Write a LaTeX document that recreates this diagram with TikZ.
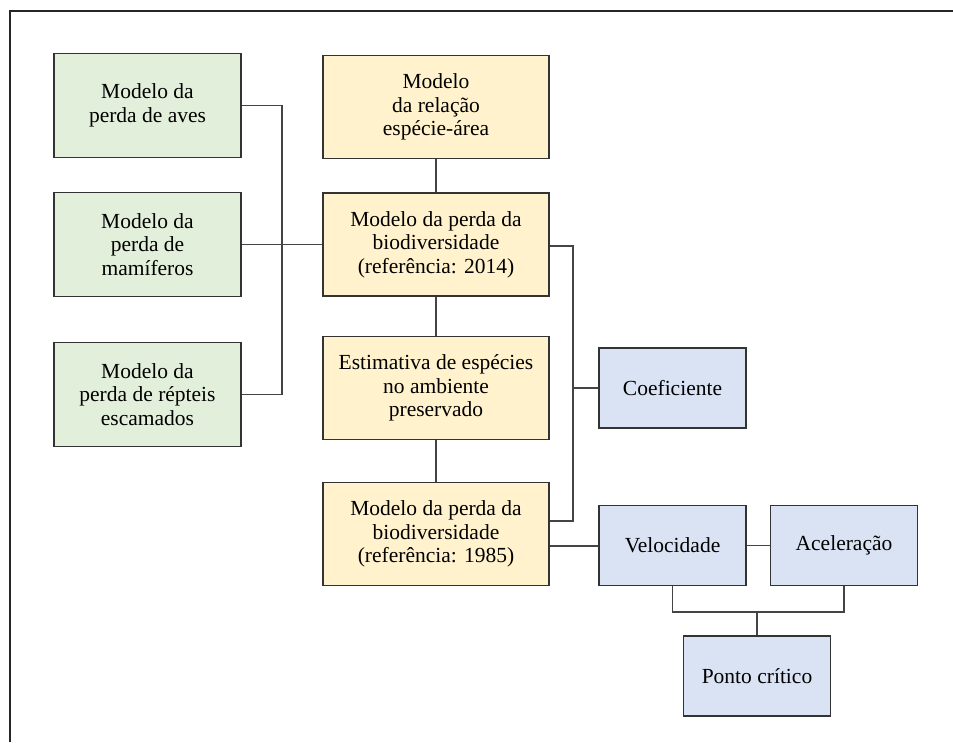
\documentclass[tikz,border=0pt]{standalone}
\usepackage{fontspec}
\setmainfont{Liberation Serif}
\definecolor{gfill}{HTML}{E2EFDA}
\definecolor{yfill}{HTML}{FFF2CC}
\definecolor{bfill}{HTML}{DAE3F3}
\definecolor{edge}{HTML}{333333}
\definecolor{wire}{HTML}{444444}
\begin{document}
\begin{tikzpicture}[x=1pt,y=-1pt,
  box/.style={draw=edge, line width=1.3pt, align=center, inner sep=0pt,
    font=\fontsize{21.5}{23.6}\selectfont},
  gbox/.style={box, fill=gfill, minimum width=187pt, minimum height=104pt},
  ybox/.style={box, fill=yfill, minimum width=226pt, minimum height=103pt},
  bbox/.style={box, fill=bfill, minimum width=147pt, minimum height=80pt},
  wire/.style={draw=wire, line width=1.3pt}]
\useasboundingbox (0,0) rectangle (953,742);
\draw[line width=2pt, color=black!85] (10,742) -- (10,11) -- (953,11);

\node[gbox] (g1) at (147.5,105.5) {Modelo da\\perda de aves};
\node[gbox] (g2) at (147.5,244.5) {Modelo da\\perda de\\mamíferos};
\node[gbox] (g3) at (147.5,394.5) {Modelo da\\perda de répteis\\escamados};

\node[ybox] (y1) at (436,107) {Modelo\\da relação\\espécie-área};
\node[ybox] (y2) at (436,244.5) {Modelo da perda da\\biodiversidade\\(referência: 2014)};
\node[ybox] (y3) at (436,388) {Estimativa de espécies\\no ambiente\\preservado};
\node[ybox] (y4) at (436,534) {Modelo da perda da\\biodiversidade\\(referência: 1985)};

\node[bbox] (b1) at (672.5,388) {Coeficiente};
\node[bbox] (b2) at (672.5,545.5) {Velocidade};
\node[bbox] (b3) at (844,545.5) {Aceleração};
\node[bbox] (b4) at (757,676) {Ponto crítico};

\coordinate (jL) at (282,245);
\coordinate (jR) at (573,388);
\coordinate (jB) at (757,612);
\coordinate (v1) at ([yshift=-12pt]y4.east);
\coordinate (r1) at ([yshift=13pt]y4.east);
\coordinate (r0) at ([yshift=-1.5pt]y2.east);

\draw[wire] (g1.east) -| (jL) |- (g3.east);
\draw[wire] (g2.east) -- (y2.west);
\draw[wire] (y1.south) -- (y2.north);
\draw[wire] (y2.south) -- (y3.north);
\draw[wire] (y3.south) -- (y4.north);
\draw[wire] (r0) -| (jR) |- (r1);
\draw[wire] (jR) -- (b1.west);
\draw[wire] (v1) -- (v1 -| b2.west);
\draw[wire] (b2.east) -- (b3.west);
\draw[wire] (b2.south) |- (jB) -| (b3.south);
\draw[wire] (jB) -- (b4.north);
\end{tikzpicture}
\end{document}
